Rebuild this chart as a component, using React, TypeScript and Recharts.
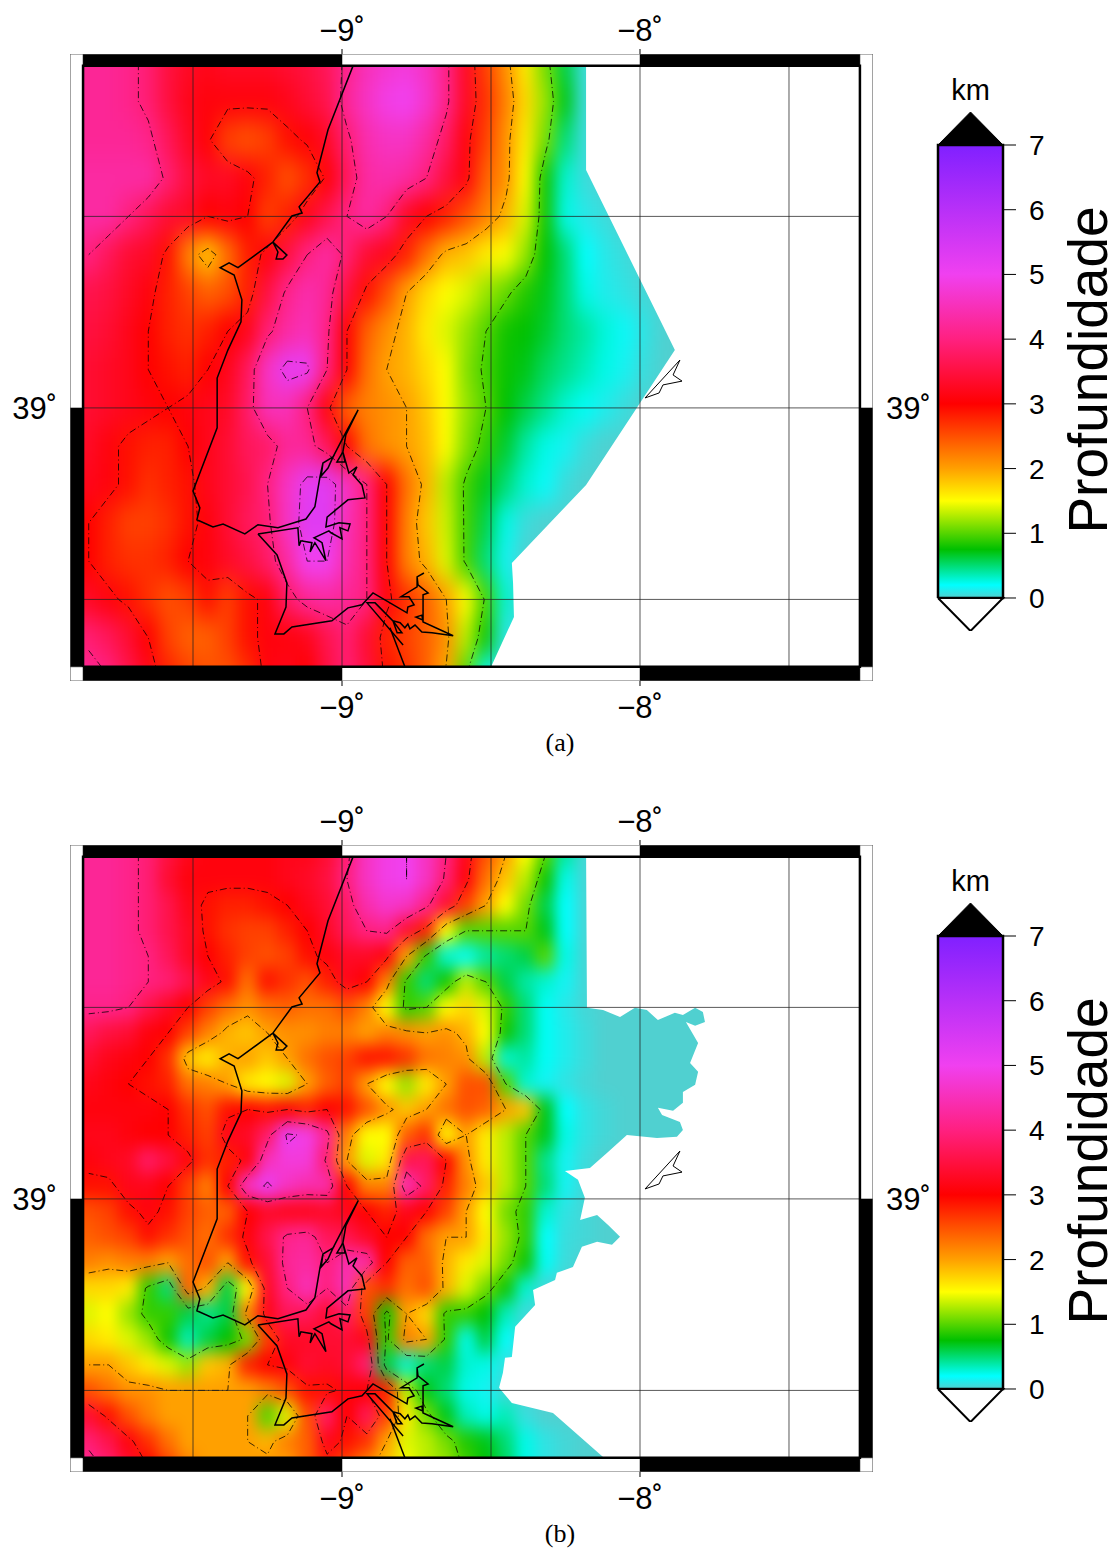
import React from "react";
import { ComposedChart, Scatter, XAxis, YAxis } from "recharts";

// depth colour table (km -> colour)
const scaleDepths = [0, 0.2, 0.75, 1.5, 2, 3, 4, 5, 7];
const scaleColors = ["#50d0d0", "#00ffff", "#00c000", "#ffff00", "#ffa000", "#ff0000", "#ff2080", "#f040f0", "#8020ff"];
const scaleTicks = [0, 1, 2, 3, 4, 5, 6, 7];
const contourLevels = [1, 2, 3, 4, 5];

const lonTicks = [-9, -8];
const latTicks = [39];
const lonGrid = [-9.5, -9, -8.5, -8, -7.5];
const latGrid = [39.5, 39, 38.5];

const lonFrame = [-9.9128, -7.2181];
const latFrame = [38.287, 39.924];
const lonMap = [-9.869, -7.262];
const latMap = [38.324, 39.893];

// columns start at 9.85W every 1/15 deg. panel (a) rows start at 39.9N every 0.1 deg
const depthA = [
  [4.2,4.2,4.1,3.9,3.5,3.3,3.2,3.3,3.3,3.3,3.4,3.5,3.7,4.1,4.5,4.7,4.8,4.6,4.1,3.3,2.6,2.1,1.6,1.1,0.6,0.05],
  [4.2,4.2,4.1,3.9,3.5,3.2,3.1,3.1,3.1,3.1,3.2,3.4,3.6,4.2,4.6,4.9,5.0,4.7,4.1,3.3,2.7,2.2,1.7,1.2,0.7,0.05],
  [4.2,4.2,4.2,4.1,3.7,3.3,3.05,2.6,2.5,2.6,2.9,3.05,3.3,3.9,4.4,4.6,4.6,4.3,3.8,3.1,2.6,2.1,1.6,1.1,0.5,0.05],
  [4.3,4.3,4.3,4.3,3.9,3.5,3.3,3.3,3.1,2.8,2.5,2.7,3.05,3.7,4.3,4.4,4.3,4.0,3.5,3.1,2.4,2.1,1.5,0.8,0.3,0.05],
  [4.3,4.3,4.0,3.7,3.4,3.3,3.0,3.1,3.0,2.6,2.8,3.2,3.6,4.0,4.3,4.0,3.3,3.0,2.8,2.5,2.2,1.9,1.4,0.8,0.25,0.1,0.05],
  [4.0,3.7,3.4,3.3,2.9,2.2,1.8,2.3,2.8,3.1,3.5,4.0,4.3,3.9,3.4,3.2,2.8,2.3,1.9,1.8,1.6,1.5,1.2,0.75,0.5,0.2,0.1,0.05],
  [3.6,3.5,3.3,3.1,2.8,2.6,2.4,2.5,2.8,3.5,4.1,4.4,4.2,3.5,2.9,2.5,2.0,1.7,1.5,1.4,1.2,1.05,0.85,0.7,0.5,0.25,0.12,0.08,0.03],
  [3.5,3.4,3.2,3.0,2.8,2.7,2.8,3.0,3.2,3.9,4.3,4.5,4.1,3.0,2.4,2.1,1.9,1.6,1.4,1.2,1.0,0.8,0.75,0.65,0.5,0.4,0.28,0.17,0.08],
  [3.4,3.3,3.2,3.0,2.9,2.8,3.0,3.2,3.7,4.6,5.2,5.1,4.0,3.0,2.3,2.0,1.9,1.7,1.5,1.15,0.95,0.78,0.7,0.55,0.45,0.35,0.25,0.14,0.05],
  [3.4,3.3,3.2,3.1,3.0,3.1,3.2,3.3,3.8,4.5,4.5,4.0,3.1,2.4,2.2,2.1,2.0,1.8,1.5,1.2,1.0,0.75,0.6,0.45,0.3,0.22,0.12,0.05],
  [3.3,3.1,2.9,2.8,2.8,3.0,3.2,3.4,3.7,3.8,4.2,4.2,3.7,3.0,2.3,2.1,2.0,1.85,1.5,1.15,0.9,0.65,0.4,0.25,0.15,0.05],
  [3.2,3.1,2.9,2.7,2.8,2.9,3.2,3.4,3.6,4.0,4.6,5.2,5.3,4.6,4.0,3.0,2.3,1.9,1.3,0.95,0.7,0.5,0.3,0.18,0.05],
  [3.0,2.8,2.6,2.6,2.7,2.9,3.1,3.4,3.7,3.9,4.6,5.3,5.3,4.5,4.0,3.0,2.2,1.8,1.35,0.95,0.6,0.25,0.05],
  [3.0,2.8,2.7,2.7,2.8,3.0,3.1,3.3,3.5,3.8,4.3,5.0,5.0,4.4,4.0,3.0,2.2,1.9,1.4,0.95,0.5,0.15],
  [3.3,3.1,2.9,2.7,2.5,2.6,2.9,2.6,2.9,3.1,3.8,4.2,4.3,4.2,4.0,3.1,2.7,2.4,2.0,1.5,0.95,0.3],
  [3.9,3.7,3.4,3.0,2.6,2.4,2.4,2.6,2.9,3.1,3.1,3.2,3.6,3.9,3.4,2.8,2.6,2.4,2.1,1.3,0.8,0.1],
  [4.2,4.0,3.6,3.2,2.8,2.6,2.5,2.5,2.7,3.1,3.2,3.0,3.5,3.9,3.5,2.9,2.7,2.4,1.95,1.0,0.2],
];

// panel (b) rows start at 39.9N every 1/15 deg
const depthB = [
  [4.2,4.2,4.1,3.9,3.5,3.2,3.1,3.1,3.1,3.1,3.2,3.2,3.4,3.9,4.6,4.9,5.0,4.6,4.0,3.2,2.5,2.0,1.5,1.0,0.4,0.03],
  [4.2,4.2,4.1,3.9,3.4,3.1,3.1,3.1,3.1,3.1,3.2,3.3,3.5,4.0,4.6,4.9,5.0,4.6,3.9,3.1,2.3,1.8,1.3,0.8,0.25,0.03],
  [4.2,4.2,4.1,3.9,3.6,3.2,2.9,2.8,2.8,2.9,3.0,3.2,3.4,3.8,4.4,4.7,4.6,4.1,3.4,2.6,2.0,1.5,1.1,0.6,0.2,0.03],
  [4.2,4.2,4.1,3.9,3.6,3.3,2.9,2.7,2.6,2.6,2.8,3.0,3.3,3.7,4.0,4.1,3.4,2.8,1.5,1.0,1.0,1.0,1.0,0.7,0.2,0.03],
  [4.2,4.2,4.1,4.0,3.7,3.3,3.0,2.8,2.6,2.5,2.6,2.9,3.1,3.3,3.3,3.1,2.0,0.9,0.3,0.22,0.4,0.5,0.6,1.0,0.25,0.03],
  [4.2,4.2,4.1,4.0,3.9,3.6,3.2,2.9,2.3,2.9,2.7,2.5,2.8,3.2,3.0,2.2,0.9,0.5,0.8,1.3,1.0,0.6,0.4,0.3,0.15,0.03],
  [4.1,4.1,4.0,3.6,3.3,3.0,2.6,2.3,2.1,2.3,2.4,2.3,2.3,2.5,2.2,1.5,0.9,1.0,1.5,1.7,1.4,0.9,0.5,0.22,0.1,0.03],
  [3.7,3.5,3.4,3.1,3.0,2.6,2.2,1.9,1.8,2.0,2.1,2.1,2.2,2.2,2.0,2.2,2.1,2.0,2.1,1.9,1.5,0.8,0.5,0.22,0.12,0.05],
  [3.4,3.2,3.1,3.0,2.7,1.8,1.6,1.9,2.0,1.8,2.0,2.3,2.5,2.6,2.9,2.9,2.7,2.3,2.2,2.1,1.3,0.3,0.4,0.22,0.12,0.05],
  [3.2,3.1,3.0,2.9,2.8,2.3,2.2,2.0,1.6,1.5,1.4,2.0,2.4,2.6,2.0,1.5,1.2,1.6,2.0,2.5,2.5,1.0,0.3,0.15,0.08,0.03],
  [3.1,3.1,3.1,3.1,3.0,2.7,2.5,2.9,3.0,2.9,3.0,2.8,3.0,2.9,2.5,2.1,1.8,2.0,2.3,2.5,2.4,2.0,1.8,0.7,0.2,0.08,0.03],
  [3.2,3.2,3.1,3.0,3.0,2.8,2.6,3.2,3.3,3.8,5.1,4.9,4.2,2.2,1.5,1.5,2.4,2.7,1.5,2.0,1.6,1.3,1.0,0.7,0.25,0.08,0.03],
  [3.1,3.2,3.3,3.8,3.5,3.1,2.7,2.8,3.1,4.5,4.8,4.8,3.9,2.0,1.4,1.6,3.6,3.7,3.0,2.1,1.6,1.3,1.0,0.45,0.15,0.05],
  [2.9,2.9,3.2,3.2,3.0,2.6,2.2,3.0,4.6,5.1,4.6,4.4,4.4,3.0,2.2,2.2,4.5,3.8,2.8,2.2,1.8,1.3,1.0,0.5,0.15,0.03],
  [2.5,2.6,2.9,3.1,2.9,2.6,2.4,2.4,3.0,3.3,3.2,3.2,3.3,3.2,3.0,2.8,3.2,3.0,2.6,2.0,1.5,1.1,0.9,0.3,0.08,0.03],
  [2.4,2.5,2.6,2.9,2.7,2.5,2.3,2.7,3.1,3.6,4.1,4.2,3.7,3.6,3.3,3.0,3.0,2.3,2.0,2.0,1.6,1.2,0.9,0.2,0.06,0.03],
  [2.2,2.1,2.2,2.2,2.0,2.3,2.5,2.0,2.9,3.4,4.2,4.3,4.0,4.4,4.4,3.0,2.4,2.4,1.9,1.6,1.4,1.1,0.8,0.22,0.05],
  [1.7,1.7,1.6,0.9,0.5,2.4,1.9,0.6,1.5,3.3,4.0,4.5,4.0,4.5,2.5,2.7,2.3,2.5,1.9,1.4,1.1,0.8,0.3,0.03],
  [1.4,1.5,1.2,0.9,0.9,0.6,0.45,0.6,2.2,3.2,3.7,3.7,3.4,3.8,2.6,0.8,2.0,1.7,0.9,0.9,0.75,0.35,0.05],
  [1.7,1.6,1.4,1.2,0.8,0.35,0.6,0.75,1.1,2.6,3.3,3.3,3.4,3.4,3.2,0.9,2.2,2.0,0.9,0.25,0.6,0.2],
  [2.0,2.0,1.8,1.6,1.4,1.2,1.8,1.9,2.8,3.0,3.1,3.4,3.3,3.4,3.9,0.6,0.3,0.5,0.6,0.3,0.25,0.08],
  [2.5,2.3,2.1,2.1,2.0,2.0,2.0,2.0,2.0,2.2,2.5,2.9,2.9,3.1,3.0,2.8,1.3,0.7,0.5,0.25,0.15,0.03],
  [3.4,2.9,2.5,2.2,2.0,2.0,2.0,2.0,2.0,1.0,1.4,2.5,3.8,3.0,3.7,2.6,1.6,1.1,0.7,0.35,0.25,0.35,0.06],
  [3.9,3.6,3.1,2.7,2.3,2.0,2.0,2.0,2.0,1.9,2.2,2.4,3.2,2.9,2.7,2.0,1.4,1.3,1.1,0.85,0.7,0.5,0.25,0.08,0.03],
  [4.2,3.9,3.4,3.0,2.6,2.2,2.0,2.0,2.0,2.1,2.0,2.4,2.8,2.5,2.1,1.8,1.5,1.3,1.2,0.95,0.75,0.55,0.25,0.08,0.03],
];

// edge of the gridded area, the part east of it stays white
const noDataA = [
  [-8.181,39.91],[-8.181,39.621],[-7.883,39.151],[-8.181,38.799],[-8.43,38.595],[-8.426,38.543],[-8.423,38.454],
  [-8.497,38.329],[-8.497,38.3],[-7.25,38.3],[-7.25,39.91],
];
const noDataB = [
  [-8.181,39.91],[-8.178,39.499],[-8.124,39.493],[-8.067,39.475],[-8.017,39.499],[-7.977,39.493],[-7.94,39.467],
  [-7.883,39.486],[-7.856,39.48],[-7.815,39.499],[-7.789,39.488],[-7.782,39.462],[-7.815,39.452],[-7.846,39.462],
  [-7.805,39.407],[-7.832,39.355],[-7.805,39.332],[-7.815,39.298],[-7.856,39.279],[-7.856,39.251],[-7.889,39.23],
  [-7.94,39.238],[-7.926,39.219],[-7.866,39.201],[-7.856,39.18],[-7.876,39.162],[-7.943,39.159],[-8.044,39.167],
  [-8.111,39.12],[-8.168,39.081],[-8.252,39.073],[-8.208,39.05],[-8.185,39.003],[-8.201,38.945],[-8.144,38.958],
  [-8.107,38.932],[-8.067,38.901],[-8.094,38.88],[-8.144,38.888],[-8.195,38.875],[-8.225,38.822],[-8.279,38.807],
  [-8.285,38.788],[-8.359,38.762],[-8.352,38.723],[-8.419,38.666],[-8.43,38.587],[-8.453,38.585],[-8.46,38.546],
  [-8.473,38.507],[-8.43,38.467],[-8.292,38.441],[-8.124,38.326],[-8.124,38.3],[-7.25,38.3],[-7.25,39.91],
];

const coastNorth = [
  [-8.963,39.893],[-9.047,39.726],[-9.084,39.614],[-9.074,39.59],[-9.144,39.525],[-9.134,39.509],[-9.168,39.501],
  [-9.232,39.433],[-9.185,39.399],[-9.198,39.389],[-9.221,39.389],[-9.215,39.407],[-9.232,39.433],[-9.349,39.366],
  [-9.379,39.379],[-9.409,39.366],[-9.362,39.347],[-9.336,39.282],[-9.339,39.225],[-9.383,39.151],[-9.419,39.078],
  [-9.419,38.948],[-9.5,38.783],[-9.477,38.739],[-9.487,38.708],[-9.433,38.689],[-9.399,38.697],[-9.326,38.671],
  [-9.282,38.695],[-9.215,38.687],[-9.121,38.71],[-9.091,38.742],[-9.074,38.82],[-9.064,38.856],[-9.03,38.872],
  [-9.047,38.843],[-9.07,38.822],[-9.064,38.856],
];
const coastTagus = [
  [-9.03,38.872],[-8.997,38.922],[-8.946,38.995],[-8.987,38.93],[-8.997,38.885],[-9.017,38.859],[-8.99,38.859],
  [-8.997,38.885],[-8.977,38.83],[-8.95,38.846],[-8.963,38.825],[-8.933,38.799],[-8.923,38.765],[-8.98,38.76],
  [-9.05,38.715],[-9.054,38.689],[-9.01,38.7],[-8.973,38.697],[-8.98,38.679],[-9.007,38.687],[-9.0,38.658],
  [-9.037,38.674],[-9.044,38.679],[-9.094,38.661],[-9.067,38.648],[-9.054,38.601],[-9.091,38.648],[-9.107,38.624],
  [-9.101,38.648],[-9.138,38.653],[-9.144,38.64],[-9.148,38.687],[-9.282,38.671],
];
const coastSouth = [
  [-9.282,38.671],[-9.218,38.616],[-9.185,38.543],[-9.188,38.48],[-9.225,38.41],[-9.195,38.41],[-9.168,38.428],
  [-9.034,38.444],[-8.98,38.478],[-8.933,38.486],[-8.896,38.517],[-8.782,38.465],[-8.779,38.48],[-8.758,38.486],
  [-8.775,38.507],[-8.802,38.507],[-8.748,38.533],[-8.748,38.559],[-8.725,38.569],[-8.748,38.559],[-8.745,38.538],
  [-8.711,38.517],[-8.728,38.512],[-8.728,38.446],[-8.752,38.454],[-8.732,38.459],[-8.728,38.441],[-8.627,38.405],
  [-8.698,38.413],[-8.732,38.415],[-8.755,38.433],[-8.772,38.423],[-8.779,38.436],[-8.789,38.426],[-8.805,38.439],
  [-8.829,38.444],[-8.799,38.413],[-8.815,38.413],[-8.829,38.444],[-8.889,38.491],[-8.916,38.491],[-8.795,38.381],
];
const coastSado = [[-8.839,38.426],[-8.789,38.324]];
const island = [
  [-7.866,39.125],[-7.889,39.086],[-7.859,39.07],[-7.923,39.06],[-7.936,39.039],[-7.983,39.026],[-7.866,39.125],
];

const lerpColor = (a: string, b: string, t: number) => {
  const ch = (s: string, k: number) => parseInt(s.slice(1 + k * 2, 3 + k * 2), 16);
  return `rgb(${[0, 1, 2].map((k) => Math.round(ch(a, k) + (ch(b, k) - ch(a, k)) * t)).join(",")})`;
};

function depthColor(d: number) {
  for (let k = 1; k < scaleDepths.length; k++) {
    if (d <= scaleDepths[k]) {
      const t = Math.max(0, (d - scaleDepths[k - 1]) / (scaleDepths[k] - scaleDepths[k - 1]));
      return lerpColor(scaleColors[k - 1], scaleColors[k], t);
    }
  }
  return scaleColors[scaleColors.length - 1];
}

const NCOLS = 33;
const colLon = (i: number) => -9.85 + i / 15;
const padGrid = (grid: number[][]) => grid.map((r) => Array.from({ length: NCOLS }, (_, i) => r[i] ?? 0));

// marching squares over the read grid, walked into polylines
function contourChains(grid: number[][], level: number, rowLat: (j: number) => number) {
  const links = new Map<string, string[]>();
  const nodes = new Map<string, number[]>();
  const cross = (i0: number, j0: number, i1: number, j1: number) => {
    const a = grid[j0][i0];
    const b = grid[j1][i1];
    if (a >= level === b >= level) return null;
    const id = `${i0},${j0},${i1},${j1}`;
    const t = (level - a) / (b - a);
    nodes.set(id, [colLon(i0 + (i1 - i0) * t), rowLat(j0 + (j1 - j0) * t)]);
    return id;
  };
  const link = (p: string, q: string) => {
    links.set(p, [...(links.get(p) ?? []), q]);
    links.set(q, [...(links.get(q) ?? []), p]);
  };
  for (let j = 0; j < grid.length - 1; j++) {
    for (let i = 0; i < NCOLS - 1; i++) {
      const e = [cross(i, j, i + 1, j), cross(i + 1, j, i + 1, j + 1), cross(i, j + 1, i + 1, j + 1), cross(i, j, i, j + 1)];
      const on = e.filter(Boolean) as string[];
      if (on.length === 2) link(on[0], on[1]);
      if (on.length === 4) {
        const high = (grid[j][i] + grid[j][i + 1] + grid[j + 1][i] + grid[j + 1][i + 1]) / 4 >= level;
        if (high === grid[j][i] >= level) {
          link(e[0]!, e[1]!);
          link(e[2]!, e[3]!);
        } else {
          link(e[0]!, e[3]!);
          link(e[1]!, e[2]!);
        }
      }
    }
  }
  const seen = new Set<string>();
  const chains: number[][][] = [];
  const walk = (start: string) => {
    const chain = [nodes.get(start)!];
    seen.add(start);
    let cur = start;
    for (;;) {
      const next = (links.get(cur) ?? []).find((n) => !seen.has(n));
      if (!next) break;
      seen.add(next);
      chain.push(nodes.get(next)!);
      cur = next;
    }
    if ((links.get(cur) ?? []).includes(start) && chain.length > 2) chain.push(nodes.get(start)!);
    chains.push(chain);
  };
  links.forEach((v, k) => {
    if (v.length === 1 && !seen.has(k)) walk(k);
  });
  links.forEach((_, k) => {
    if (!seen.has(k)) walk(k);
  });
  return chains;
}

const noShape = () => <g />;

// a polyline or filled polygon drawn through the chart's scales
function poly(key: string, pts: number[][], style: Record<string, unknown>, xAxisId?: string) {
  return (
    <Scatter
      key={key}
      xAxisId={xAxisId ?? 0}
      data={pts.map(([lon, lat]) => ({ lon, lat }))}
      shape={noShape}
      line={{ fill: "none", stroke: "none", ...style }}
      isAnimationActive={false}
    />
  );
}

const box = (x0: number, x1: number, y0: number, y1: number) => [[x0, y0], [x1, y0], [x1, y1], [x0, y1], [x0, y0]];
const solid = (fill: string) => ({ fill, stroke: fill, strokeWidth: 0.5 });

const degTick = (v: number) => (v < 0 ? `\u2212${-v}\u02da` : `${v}\u02da`);
const tickFont = { fontSize: 31, fontFamily: "Liberation Sans", fill: "#000" };
const barFont = { fontSize: 28, fontFamily: "Liberation Sans", fill: "#000" };

function DepthMap({ id, grid, step, noData, cellH, blur }: { id: string; grid: number[][]; step: number; noData: number[][]; cellH: number; blur: string }) {
  const rowLat = (j: number) => 39.9 - j * step;
  const full = padGrid(grid);
  const cells = full.flatMap((r, row) => r.map((depth, col) => ({ lon: colLon(col), lat: rowLat(row), depth, col, row })));
  const last = full.length - 1;
  const Cell = (p: any) => {
    const { col, row, depth } = p.payload;
    const pad = 50;
    const x0 = p.cx - 10.5 - (col === 0 ? pad : 0);
    const y0 = p.cy - cellH / 2 - 0.5 - (row === 0 ? pad : 0);
    const w = 21 + (col === 0 ? pad : 0);
    const h = cellH + 1 + (row === 0 || row === last ? pad : 0);
    return <rect x={x0} y={y0} width={w} height={h} fill={depthColor(depth)} />;
  };
  const contours = contourLevels.flatMap((lvl) => contourChains(full, lvl, rowLat).map((c, i) => ({ key: `c${lvl}-${i}`, c })));
  const [fx0, fx1] = lonFrame;
  const [fy0, fy1] = latFrame;
  const [mx0, mx1] = lonMap;
  const [my0, my1] = latMap;
  const thin = { stroke: "#222", strokeWidth: 1, strokeOpacity: 0.75 };
  const line = { stroke: "#000", strokeWidth: 1.5, strokeLinejoin: "miter" };
  return (
    <ComposedChart width={940} height={730} margin={{ top: 0, right: 0, bottom: 0, left: 0 }}>
      <defs>
        <filter id={`blur-${id}`} filterUnits="userSpaceOnUse" x="0" y="0" width="940" height="730" colorInterpolationFilters="sRGB">
          <feGaussianBlur stdDeviation={blur} />
        </filter>
        <clipPath id={`clip-${id}`}>
          <rect x="83" y="66" width="777" height="601" />
        </clipPath>
      </defs>
      <style>{`.heat-${id}{filter:url(#blur-${id});clip-path:url(#clip-${id})}`}</style>
      <XAxis dataKey="lon" type="number" domain={lonFrame} ticks={lonTicks} interval={0} allowDataOverflow height={49} tickSize={5} tickMargin={10} axisLine={false} tickLine={{ stroke: "#000" }} tick={tickFont} tickFormatter={degTick} />
      <XAxis xAxisId="top" dataKey="lon" orientation="top" type="number" domain={lonFrame} ticks={lonTicks} interval={0} allowDataOverflow height={54} tickSize={5} tickMargin={8} axisLine={false} tickLine={{ stroke: "#000" }} tick={tickFont} tickFormatter={degTick} />
      <YAxis dataKey="lat" type="number" domain={latFrame} ticks={latTicks} interval={0} allowDataOverflow width={70} tickSize={0} tickMargin={13} axisLine={false} tick={tickFont} tickFormatter={degTick} />
      <YAxis yAxisId="right" orientation="right" type="number" domain={latFrame} ticks={latTicks} interval={0} allowDataOverflow width={67} tickSize={0} tickMargin={13} axisLine={false} tick={tickFont} tickFormatter={degTick} />

      <Scatter className={`heat-${id}`} data={cells} shape={Cell} isAnimationActive={false} />
      {contours.map(({ key, c }) => poly(key, c, { stroke: "#000", strokeWidth: 0.9, strokeOpacity: 0.85, strokeDasharray: "7 3 1 3" }))}
      {poly("nodata", noData, { fill: "#fff" })}

      {lonGrid.map((v) => poly(`gx${v}`, [[v, my0], [v, my1]], thin))}
      {latGrid.map((v) => poly(`gy${v}`, [[mx0, v], [mx1, v]], thin))}

      {poly("wt", box(fx0, fx1, my1, fy1), { fill: "#fff" })}
      {poly("wb", box(fx0, fx1, fy0, my0), { fill: "#fff" })}
      {poly("wl", box(fx0, mx0, fy0, fy1), { fill: "#fff" })}
      {poly("wr", box(mx1, fx1, fy0, fy1), { fill: "#fff" })}
      {poly("t1", box(mx0, -9, my1, fy1), solid("#000"))}
      {poly("t2", box(-8, mx1, my1, fy1), solid("#000"))}
      {poly("b1", box(mx0, -9, fy0, my0), solid("#000"))}
      {poly("b2", box(-8, mx1, fy0, my0), solid("#000"))}
      {poly("l1", box(fx0, mx0, my0, 39), solid("#000"))}
      {poly("r1", box(mx1, fx1, my0, 39), solid("#000"))}
      {poly("border", box(mx0, mx1, my0, my1), { stroke: "#000", strokeWidth: 2.5 })}
      {poly("outer", box(fx0, fx1, fy0, fy1), { stroke: "#666", strokeWidth: 1.2 }, "top")}

      {poly("coastN", coastNorth, line)}
      {poly("coastT", coastTagus, line)}
      {poly("coastS", coastSouth, line)}
      {poly("coastD", coastSado, line)}
      {poly("island", island, { stroke: "#000", strokeWidth: 1, fill: "#fff" })}
    </ComposedChart>
  );
}

function ColorBar({ id }: { id: string }) {
  const stops = scaleDepths.map((d, k) => <stop key={d} offset={d / 7} stopColor={scaleColors[k]} />);
  const bar = (key: string, pts: number[][], style: Record<string, unknown>) => (
    <Scatter key={key} data={pts.map(([x, y]) => ({ x, y }))} shape={noShape} line={{ fill: "none", ...style }} isAnimationActive={false} />
  );
  return (
    <ComposedChart width={213} height={700} margin={{ top: 112, right: 0, bottom: 69, left: 38 }}>
      <defs>
        <linearGradient id={`cpt-${id}`} x1="0" y1="1" x2="0" y2="0">
          {stops}
        </linearGradient>
      </defs>
      <XAxis dataKey="x" type="number" domain={[0, 1]} hide />
      <YAxis dataKey="y" orientation="right" type="number" domain={[-0.51, 7.51]} ticks={scaleTicks} interval={0} allowDataOverflow width={110} tickSize={13} tickMargin={13} axisLine={false} tickLine={{ stroke: "#000" }} tick={{ ...barFont, textAnchor: "start" }} />
      {bar("body", [[0, 0], [1, 0], [1, 7], [0, 7], [0, 0]], { fill: `url(#cpt-${id})`, stroke: "#000", strokeWidth: 2.5 })}
      {bar("over", [[0, 7], [0.5, 7.51], [1, 7], [0, 7]], { fill: "#000", stroke: "#000", strokeWidth: 1 })}
      {bar("under", [[0, 0], [0.5, -0.51], [1, 0], [0, 0]], { fill: "#fff", stroke: "#000", strokeWidth: 2 })}
      <text x={70.5} y={100} textAnchor="middle" fontSize={29} fontFamily="Liberation Sans">km</text>
      <text transform="translate(207 370) rotate(-90)" textAnchor="middle" fontSize={55} fontFamily="Liberation Sans">Profundidade</text>
    </ComposedChart>
  );
}

function Panel({ id, top, label, grid, step, noData, cellH, blur }: any) {
  return (
    <div style={{ position: "absolute", left: 0, top, width: 1113, height: 758 }}>
      <div style={{ position: "absolute", left: 0, top: 0 }}>
        <DepthMap id={id} grid={grid} step={step} noData={noData} cellH={cellH} blur={blur} />
      </div>
      <div style={{ position: "absolute", left: 900, top: 0 }}>
        <ColorBar id={id} />
      </div>
      <div style={{ position: "absolute", left: 460, width: 200, top: 728, textAlign: "center", fontFamily: "Liberation Serif", fontSize: 26 }}>{label}</div>
    </div>
  );
}

export default function App() {
  return (
    <div style={{ position: "absolute", left: 0, top: 0, width: 1113, height: 1549, background: "#fff", overflow: "hidden" }}>
      <Panel id="a" top={0} label="(a)" grid={depthA} step={0.1} noData={noDataA} cellH={38.3} blur="8 13" />
      <Panel id="b" top={791} label="(b)" grid={depthB} step={1 / 15} noData={noDataB} cellH={25.5} blur="7 9" />
    </div>
  );
}
